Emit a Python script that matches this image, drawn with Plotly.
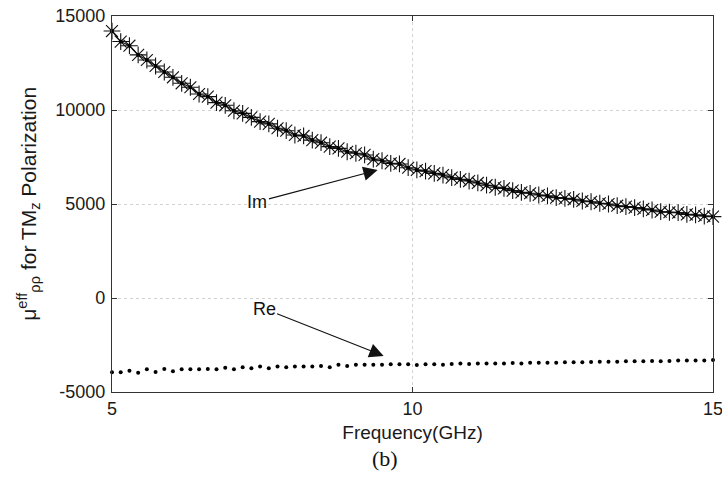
import plotly.graph_objects as go

freq = [5.000, 5.145, 5.290, 5.435, 5.580, 5.725, 5.870, 6.014, 6.159, 6.304,
        6.449, 6.594, 6.739, 6.884, 7.029, 7.174, 7.319, 7.464, 7.609, 7.754,
        7.899, 8.043, 8.188, 8.333, 8.478, 8.623, 8.768, 8.913, 9.058, 9.203,
        9.348, 9.493, 9.638, 9.783, 9.928, 10.072, 10.217, 10.362, 10.507, 10.652,
        10.797, 10.942, 11.087, 11.232, 11.377, 11.522, 11.667, 11.812, 11.957, 12.101,
        12.246, 12.391, 12.536, 12.681, 12.826, 12.971, 13.116, 13.261, 13.406, 13.551,
        13.696, 13.841, 13.986, 14.130, 14.275, 14.420, 14.565, 14.710, 14.855, 15.000]

im_vals = [14200, 13640, 13420, 12930, 12660, 12340, 12020, 11740, 11420, 11210,
           10850, 10710, 10390, 10250, 9960, 9820, 9610, 9380, 9260, 9030,
           8900, 8670, 8620, 8400, 8260, 8050, 7960, 7780, 7700, 7610,
           7390, 7300, 7160, 7130, 6930, 6810, 6750, 6630, 6540, 6400,
           6310, 6220, 6120, 6000, 5890, 5830, 5710, 5620, 5570, 5480,
           5430, 5340, 5300, 5250, 5160, 5120, 5040, 5000, 4910, 4860,
           4810, 4740, 4680, 4590, 4560, 4540, 4450, 4420, 4360, 4330]

re_vals = [-3950, -3950, -3870, -3970, -3790, -3940, -3780, -3900, -3790, -3790,
           -3790, -3780, -3790, -3710, -3790, -3690, -3740, -3650, -3740, -3650,
           -3690, -3650, -3650, -3650, -3620, -3690, -3550, -3620, -3550, -3550,
           -3550, -3550, -3530, -3530, -3530, -3560, -3530, -3530, -3550, -3510,
           -3490, -3510, -3490, -3480, -3480, -3480, -3460, -3480, -3440, -3440,
           -3440, -3440, -3420, -3420, -3420, -3400, -3390, -3390, -3390, -3370,
           -3370, -3370, -3350, -3370, -3350, -3330, -3330, -3330, -3320, -3300]

y_ticks = [-5000, 0, 5000, 10000, 15000]
x_ticks = [5, 10, 15]

font_family = "Liberation Sans, Arial, sans-serif"
txt_color = "#1a1a1a"

fig = go.Figure()

fig.add_trace(go.Scatter(
    x=freq, y=im_vals, mode="lines+markers",
    line=dict(color="#111111", width=1.2),
    marker=dict(symbol="asterisk-open", size=14,
                line=dict(color="#2a2a2a", width=1.1)),
    showlegend=False, hoverinfo="skip", cliponaxis=False))
fig.add_trace(go.Scatter(
    x=freq, y=im_vals, mode="markers",
    marker=dict(symbol="square", size=3.5, color="#000000"),
    showlegend=False, hoverinfo="skip", cliponaxis=False))
fig.add_trace(go.Scatter(
    x=freq, y=re_vals, mode="markers",
    marker=dict(symbol="circle", size=4, color="#000000"),
    showlegend=False, hoverinfo="skip", cliponaxis=False))

axis_common = dict(
    showline=True, linecolor="#333333", linewidth=1.3, mirror="ticks",
    ticks="inside", ticklen=5, tickcolor="#333333",
    showgrid=True, gridcolor="#d2d2d2", griddash="dot", gridwidth=1,
    zeroline=False, automargin=False, ticklabeloverflow="allow",
    tickfont=dict(family=font_family, size=18, color=txt_color),
)

fig.update_xaxes(
    range=[5, 15], tickvals=x_ticks, ticktext=[str(v) for v in x_ticks],
    title=dict(text="Frequency(GHz)", standoff=7,
               font=dict(family=font_family, size=19, color=txt_color)),
    **axis_common)
fig.update_yaxes(
    range=[-5000, 15000], tickvals=y_ticks, ticktext=[str(v) for v in y_ticks],
    ticklabelstandoff=2,
    **axis_common)

fig.add_annotation(
    x=-0.14, y=0.5, xref="paper", yref="paper", textangle=-90,
    xanchor="center", yanchor="middle", showarrow=False,
    text="μ<sup>eff</sup><sub>ρρ</sub> for TM<sub>z</sub> Polarization",
    font=dict(family=font_family, size=21, color=txt_color))

fig.add_annotation(
    x=9.42, y=6810, ax=7.42, ay=5110, xref="x", yref="y", axref="x", ayref="y",
    text="Im", showarrow=True, arrowhead=2, arrowsize=2.6, arrowwidth=1.1,
    arrowcolor="#111111", font=dict(family=font_family, size=18, color="#111111"))
fig.add_annotation(
    x=9.52, y=-3080, ax=7.53, ay=-560, xref="x", yref="y", axref="x", ayref="y",
    text="Re", showarrow=True, arrowhead=2, arrowsize=2.6, arrowwidth=1.1,
    arrowcolor="#111111", font=dict(family=font_family, size=18, color="#111111"))

fig.add_annotation(
    x=0.455, y=-0.178, xref="paper", yref="paper", text="(b)", showarrow=False,
    xanchor="center", yanchor="middle",
    font=dict(family="Liberation Serif, Times New Roman, serif", size=22, color="#111111"))

fig.update_layout(
    width=722, height=481,
    margin=dict(l=112, r=9, t=16, b=89),
    paper_bgcolor="white", plot_bgcolor="white",
)

# remove the page's default 8px body margin so the figure fills the window exactly
fig.write_html("out.html",
               config={"displayModeBar": False},
               post_script="document.body.style.margin='0';document.body.style.overflow='hidden';")
